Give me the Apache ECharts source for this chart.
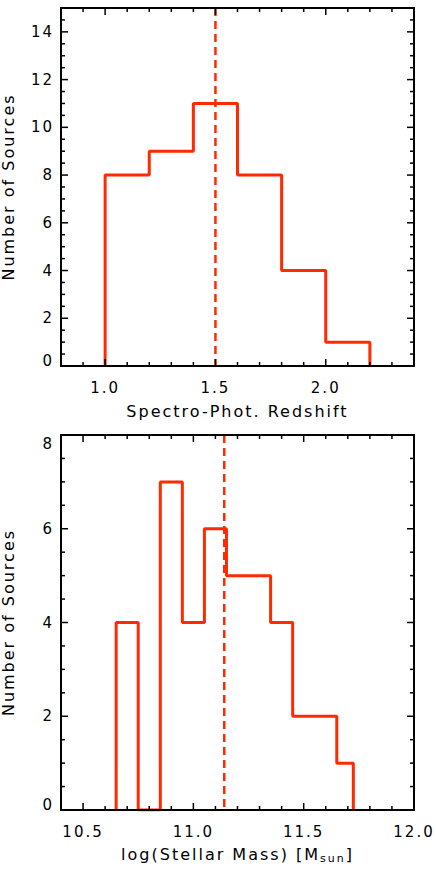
<!DOCTYPE html>
<html><head><meta charset="utf-8">
<script src="https://cdn.jsdelivr.net/npm/echarts@6/dist/echarts.min.js"></script>
<style>
html,body{margin:0;padding:0;background:#fff;}
#c{width:436px;height:872px;letter-spacing:2px;}
#c text, #c tspan{letter-spacing:2px;}
</style></head><body><div id="c"></div>
<script>
// ---- data ----
const zEdges = [1.0, 1.2, 1.4, 1.6, 1.8, 2.0, 2.2];
const zCounts = [8, 9, 11, 8, 4, 1];
const zMedian = 1.5;
const mEdges = [10.65, 10.75, 10.85, 10.95, 11.05, 11.15, 11.35, 11.45, 11.65, 11.725];
const mCounts = [4, 0, 7, 4, 6, 5, 4, 2, 1];
const mMedian = 11.14;
// ---- ticks ----
const zMajor = [1.0, 1.5, 2.0];
const zMinor = [0.9, 1.1, 1.2, 1.3, 1.4, 1.6, 1.7, 1.8, 1.9, 2.1, 2.2, 2.3];
const mMajor = [10.5, 11.0, 11.5, 12.0];
const mMinor = [10.6, 10.7, 10.8, 10.9, 11.1, 11.2, 11.3, 11.4, 11.6, 11.7, 11.8, 11.9];
const y1Major = [0, 2, 4, 6, 8, 10, 12, 14];
const y1Minor = [0.5, 1, 1.5, 2.5, 3, 3.5, 4.5, 5, 5.5, 6.5, 7, 7.5, 8.5, 9, 9.5, 10.5, 11, 11.5, 12.5, 13, 13.5, 14.5];
const y2Major = [0, 2, 4, 6, 8];
const y2Minor = [0.5, 1, 1.5, 2.5, 3, 3.5, 4.5, 5, 5.5, 6.5, 7, 7.5];

const LS = 2;
const FONT = 'DejaVu Sans';
const RED = '#ff2a00';
const MAJ = 7, MIN = 4;
const mctx = document.createElement('canvas').getContext('2d');
try {
  echarts.setPlatformAPI({
    measureText: function (text, font) {
      mctx.font = font || '12px sans-serif';
      const t = String(text);
      return { width: mctx.measureText(t).width + LS * t.length };
    }
  });
} catch (e) {}

function stepPoints(edges, counts) {
  const pts = [[edges[0], 0]];
  for (let i = 0; i < counts.length; i++) {
    pts.push([edges[i], counts[i]]);
    pts.push([edges[i + 1], counts[i]]);
  }
  pts.push([edges[edges.length - 1], 0]);
  return pts;
}

const frameLine = { show: true, onZero: false, lineStyle: { color: '#000', width: 2 } };
function xAxes(g, min, max, major, name, nameGap, nameStyle) {
  const base = { gridIndex: g, type: 'value', min: min, max: max, splitLine: { show: false }, axisTick: { show: false }, z: 5 };
  return [
    Object.assign({}, base, {
      position: 'bottom', axisLine: frameLine,
      axisLabel: { show: true, customValues: major, formatter: v => v.toFixed(1), margin: 13, color: '#000', fontFamily: FONT, fontSize: 15 },
      name: name, nameLocation: 'middle', nameGap: nameGap, nameTextStyle: nameStyle
    }),
    Object.assign({}, base, { position: 'top', axisLine: frameLine, axisLabel: { show: false } })
  ];
}
function yAxes(g, min, max, major, hiShift) {
  const base = { gridIndex: g, type: 'value', min: min, max: max, splitLine: { show: false }, axisTick: { show: false }, z: 5 };
  return [
    Object.assign({}, base, {
      position: 'left', axisLine: frameLine,
      axisLabel: {
        show: true, customValues: major, margin: 7, color: '#000', fontFamily: FONT, fontSize: 15,
        formatter: v => v === min ? '{lo|' + v + '}' : (hiShift && v === max ? '{hi|' + v + '}' : String(v)),
        rich: {
          lo: { fontFamily: FONT, fontSize: 15, color: '#000', padding: [0, 0, 10, 0] },
          hi: { fontFamily: FONT, fontSize: 15, color: '#000', padding: [18, 0, 0, 0] }
        }
      },
      name: 'Number of Sources', nameLocation: 'middle', nameGap: 44,
      nameTextStyle: { color: '#000', fontFamily: FONT, fontSize: 16 }
    }),
    Object.assign({}, base, { position: 'right', axisLine: frameLine, axisLabel: { show: false } })
  ];
}

// tick marks drawn through the axes' own coordinate mapping (mirrored on both sides)
function xTickSeries(xi, yi, ticks, len, yMin, yMax) {
  return {
    type: 'custom', xAxisIndex: xi, yAxisIndex: yi, data: ticks.map(v => [v, yMin]), z: 6, silent: true,
    encode: { x: 0, y: 1 },
    renderItem: function (params, api) {
      const v = api.value(0);
      const b = api.coord([v, yMin]), t = api.coord([v, yMax]);
      return { type: 'group', children: [
        { type: 'line', shape: { x1: b[0], y1: b[1], x2: b[0], y2: b[1] - len }, style: { stroke: '#000', lineWidth: 1.5 } },
        { type: 'line', shape: { x1: t[0], y1: t[1], x2: t[0], y2: t[1] + len }, style: { stroke: '#000', lineWidth: 1.5 } }
      ] };
    }
  };
}
function yTickSeries(xi, yi, ticks, len, xMin, xMax) {
  return {
    type: 'custom', xAxisIndex: xi, yAxisIndex: yi, data: ticks.map(v => [xMin, v]), z: 6, silent: true,
    encode: { x: 0, y: 1 },
    renderItem: function (params, api) {
      const v = api.value(1);
      const l = api.coord([xMin, v]), r = api.coord([xMax, v]);
      return { type: 'group', children: [
        { type: 'line', shape: { x1: l[0], y1: l[1], x2: l[0] + len, y2: l[1] }, style: { stroke: '#000', lineWidth: 1.5 } },
        { type: 'line', shape: { x1: r[0], y1: r[1], x2: r[0] - len, y2: r[1] }, style: { stroke: '#000', lineWidth: 1.5 } }
      ] };
    }
  };
}

const chart = echarts.init(document.getElementById('c'), null, { renderer: 'svg', width: 436, height: 872 });
const option = {
  animation: false,
  backgroundColor: '#fff',
  grid: [
    { left: 61, right: 22, top: 8, height: 358, outerBoundsMode: 'none', containLabel: false },
    { left: 61, right: 22, top: 435, height: 375, outerBoundsMode: 'none', containLabel: false }
  ],
  xAxis: [].concat(
    xAxes(0, 0.8, 2.4, zMajor, 'Spectro-Phot. Redshift', 36,
      { color: '#000', fontFamily: FONT, fontSize: 16 }),
    xAxes(1, 10.4, 12.0, mMajor, 'log(Stellar Mass) [M{s|sun}]', 33,
      { color: '#000', fontFamily: FONT, fontSize: 16, lineHeight: 22,
        rich: { s: { color: '#000', fontFamily: FONT, fontSize: 11, lineHeight: 11, verticalAlign: 'bottom' } } })
  ),
  yAxis: [].concat(
    yAxes(0, 0, 15, y1Major, false),
    yAxes(1, 0, 8, y2Major, true)
  ),
  series: [
    { type: 'line', xAxisIndex: 0, yAxisIndex: 0, data: stepPoints(zEdges, zCounts), symbol: 'none',
      lineStyle: { color: RED, width: 3 }, z: 2 },
    { type: 'line', xAxisIndex: 0, yAxisIndex: 0, data: [[zMedian, 15], [zMedian, 0]], symbol: 'none',
      lineStyle: { color: RED, width: 2.5, type: [8, 5] }, z: 2 },
    { type: 'line', xAxisIndex: 2, yAxisIndex: 2, data: stepPoints(mEdges, mCounts), symbol: 'none',
      lineStyle: { color: RED, width: 3 }, z: 2 },
    { type: 'line', xAxisIndex: 2, yAxisIndex: 2, data: [[mMedian, 8], [mMedian, 0]], symbol: 'none',
      lineStyle: { color: RED, width: 2.5, type: [8, 5] }, z: 2 },
    xTickSeries(0, 0, zMajor, MAJ, 0, 15),
    xTickSeries(0, 0, zMinor, MIN, 0, 15),
    yTickSeries(0, 0, y1Major, MAJ, 0.8, 2.4),
    yTickSeries(0, 0, y1Minor, MIN, 0.8, 2.4),
    xTickSeries(2, 2, mMajor, MAJ, 0, 8),
    xTickSeries(2, 2, mMinor, MIN, 0, 8),
    yTickSeries(2, 2, y2Major, MAJ, 10.4, 12.0),
    yTickSeries(2, 2, y2Minor, MIN, 10.4, 12.0)
  ]
};
chart.setOption(option);
</script></body></html>
